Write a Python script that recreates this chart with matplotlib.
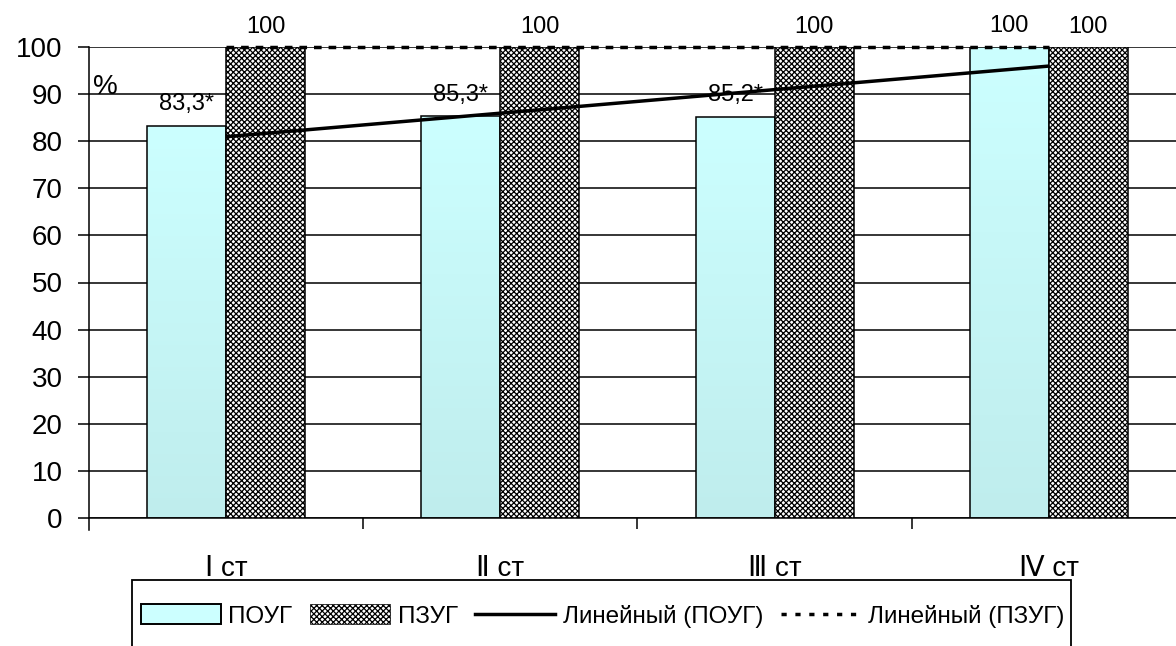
import numpy as np
import matplotlib.pyplot as plt
from matplotlib.lines import Line2D
from matplotlib.patches import Patch, Rectangle

plt.rcParams['font.family'] = ['Liberation Sans', 'DejaVu Sans']
plt.rcParams['hatch.linewidth'] = 0.9

# Data
categories = ['Ⅰ ст', 'Ⅱ ст', 'Ⅲ ст', 'Ⅳ ст']
poug = [83.3, 85.3, 85.2, 100]
pzug = [100, 100, 100, 100]
poug_labels = ['83,3*', '85,3*', '85,2*', '100']
pzug_labels = ['100', '100', '100', '100']

fig = plt.figure(figsize=(11.76, 6.46), dpi=100)
ax = fig.add_axes([89 / 1176, 128 / 646, 1097 / 1176, 471 / 646])

x = np.arange(len(categories))
w = 0.288
cyan_top = np.array([0.80, 1.0, 1.0])
cyan_bot = np.array([0.75, 0.93, 0.93])
dash = (0, (2.2, 2.0))

bars1 = ax.bar(x - w / 2, poug, w, facecolor='none', edgecolor='black', linewidth=1.1, zorder=3)
for b in bars1:
    # vertical gradient fill clipped to the bar
    grad = np.linspace(0, 1, 100)[:, None, None]
    img = cyan_bot + (cyan_top - cyan_bot) * grad
    im = ax.imshow(img, extent=[b.get_x(), b.get_x() + b.get_width(), 0, b.get_height()],
                   origin='lower', aspect='auto', zorder=2.5, interpolation='bilinear')
    im.set_clip_path(b)
bars2 = ax.bar(x + w / 2, pzug, w, facecolor='white', edgecolor='black', hatch='xxxxxx',
               linewidth=1.1, zorder=3)

# trend lines
xs = x + 1
k1, b1 = np.polyfit(xs, poug, 1)
ax.plot(x, k1 * xs + b1, color='black', linewidth=2.5, zorder=4, solid_capstyle='butt')
k2, b2 = np.polyfit(xs, pzug, 1)
ax.plot(x, k2 * xs + b2, color='black', linewidth=2.5, linestyle=dash, zorder=4, clip_on=False)

# value labels
for i in range(len(categories)):
    ax.annotate(poug_labels[i], (x[i] - w / 2, poug[i]), xytext=(0, 11),
                textcoords='offset points', ha='center', va='baseline', fontsize=17)
    ax.annotate(pzug_labels[i], (x[i] + w / 2, pzug[i]), xytext=(0, 10),
                textcoords='offset points', ha='center', va='baseline', fontsize=17)

ax.set_xlim(-0.5, len(categories) - 0.5)
ax.set_ylim(0, 100)
ax.set_yticks(np.arange(0, 101, 10))
ax.tick_params(axis='y', labelsize=20, length=8, width=1.1, direction='out', pad=11)
ax.yaxis.grid(True, color='black', linewidth=1.1)
ax.set_axisbelow(True)

ax.set_xticks(np.arange(0.5, len(categories) - 0.5, 1))
ax.set_xticklabels([])
ax.tick_params(axis='x', which='major', length=8, width=1.1, direction='out')
ax.set_xticks(x, minor=True)
ax.set_xticklabels(categories, minor=True, fontsize=20)
ax.tick_params(axis='x', which='minor', length=0, pad=27)

for s in ['top', 'right']:
    ax.spines[s].set_visible(False)
ax.spines['left'].set_linewidth(1.1)
ax.spines['bottom'].set_linewidth(1.1)
ax.spines['left'].set_bounds(-2.5, 100)
ax.spines['left'].set_clip_on(False)

ax.text(-0.485, 90, '%', fontsize=20, va='baseline')

# legend
handles = [
    Patch(facecolor=tuple(cyan_top), edgecolor='black', linewidth=1.4),
    Patch(facecolor='white', edgecolor='black', hatch='xxxxxx', linewidth=0.5),
    Line2D([], [], color='black', linewidth=2.5),
    Line2D([], [], color='black', linewidth=2.5, linestyle=(0, (1.5, 2.5))),
]
labels = ['ПОУГ', 'ПЗУГ', 'Линейный (ПОУГ)', 'Линейный (ПЗУГ)']
fig.legend(handles, labels, loc='center left', bbox_to_anchor=(141 / 1176, 1 - 616 / 646),
           ncol=4, frameon=False, fontsize=17.5, handlelength=3.3, handleheight=0.85,
           handletextpad=0.3, columnspacing=0.72, borderpad=0, borderaxespad=0)
fig.patches.append(Rectangle((132 / 1176, -0.05), (1071 - 132) / 1176, 0.05 + (646 - 580) / 646,
                             transform=fig.transFigure, facecolor='none', edgecolor='black',
                             linewidth=1.3))

fig.savefig('out.png', dpi=100)
